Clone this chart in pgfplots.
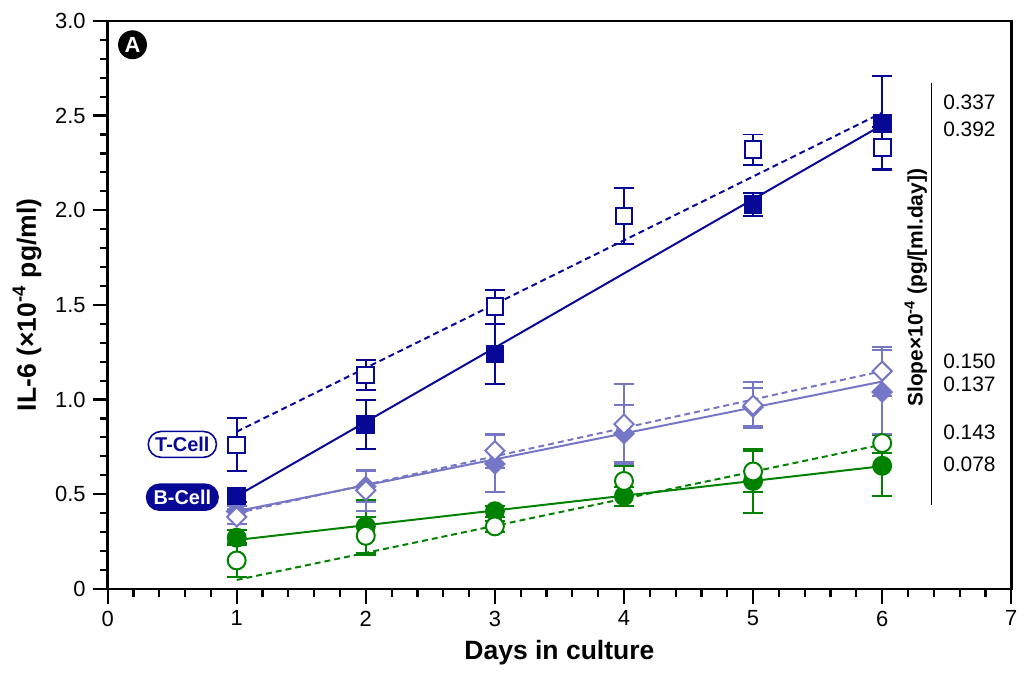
\documentclass[border=0pt]{standalone}
\usepackage{fontspec}
\setmainfont{Liberation Sans}
\usepackage{pgfplots}
\pgfplotsset{compat=1.18}
\definecolor{dblue}{RGB}{8,8,150}
\definecolor{lpurp}{RGB}{118,118,198}
\definecolor{dgreen}{RGB}{0,130,0}
\begin{document}
\begin{tikzpicture}
\begin{axis}[name=ax, scale only axis, width=453.5pt, height=285pt,
  xmin=0, xmax=7, ymin=0, ymax=3,
  xtick={0,1,2,3,4,5,6,7}, ytick={0,0.5,1,1.5,2,2.5,3},
  yticklabels={0,0.5,1.0,1.5,2.0,2.5,3.0},
  minor x tick num=4, minor y tick num=4,
  tick pos=left, tick align=outside,
  major tick length=7.5pt, minor tick length=4pt,
  axis line style={line width=1.3pt},
  every tick/.style={black, line width=1.1pt},
  /pgf/number format/assume math mode=true,
  tick label style={font=\fontsize{11}{13}\selectfont},
  xlabel={Days in culture},
  ylabel={IL-6 (×10\textsuperscript{-4} pg/ml)},
  label style={font=\fontsize{13.3}{15}\selectfont\bfseries},
  clip=false,
]
% regression lines
\addplot[dblue, line width=1pt, dash pattern=on 3pt off 2pt] coordinates {(1,0.83) (6,2.515)};
\addplot[dblue, line width=1pt] coordinates {(1,0.49) (6,2.45)};
\addplot[lpurp, line width=1pt, dash pattern=on 3pt off 2pt] coordinates {(1,0.40) (6,1.15)};
\addplot[lpurp, line width=1pt] coordinates {(1,0.41) (6,1.095)};
\addplot[dgreen, line width=1pt, dash pattern=on 3pt off 2pt] coordinates {(1,0.047) (6,0.762)};
\addplot[dgreen, line width=1pt] coordinates {(1,0.258) (6,0.648)};

% green filled circles (B-cell)
\addplot[only marks, mark=*, mark size=4.5pt, mark options={fill=dgreen, draw=dgreen, line width=1pt},
  error bars/.cd, y dir=both, y explicit,
  error bar style={dgreen, line width=1pt},
  error mark options={rotate=90, mark size=5pt, dgreen, line width=1pt}]
  table[x index=0, y index=1, y error index=2] {
x y e
1 0.27 0.04
2 0.33 0.14
3 0.41 0.03
4 0.49 0.05
5 0.57 0.17
6 0.65 0.16
};
% green open circles (T-cell)
\addplot[only marks, mark=*, mark size=4.5pt, mark options={fill=white, draw=dgreen, line width=1pt},
  error bars/.cd, y dir=both, y explicit,
  error bar style={dgreen, line width=1pt},
  error mark options={rotate=90, mark size=5pt, dgreen, line width=1pt}]
  table[x index=0, y index=1, y error index=2] {
x y e
1 0.15 0.09
2 0.28 0.10
3 0.33 0.03
4 0.57 0.08
5 0.62 0.11
6 0.77 0.05
};
% purple filled diamonds (B-cell)
\addplot[only marks, mark=square*, mark size=3.4pt, mark options={rotate=45, fill=lpurp, draw=lpurp, line width=1pt},
  error bars/.cd, y dir=both, y explicit,
  error bar style={lpurp, line width=1pt},
  error mark options={rotate=90, mark size=5pt, lpurp, line width=1pt}]
  table[x index=0, y index=1, y error index=2] {
x y e
1 0.41 0.03
2 0.54 0.08
3 0.66 0.15
4 0.82 0.15
5 0.96 0.10
6 1.04 0.22
};
% purple open diamonds (T-cell)
\addplot[only marks, mark=square*, mark size=3.4pt, mark options={rotate=45, fill=white, draw=lpurp, line width=1pt},
  error bars/.cd, y dir=both, y explicit,
  error bar style={lpurp, line width=1pt},
  error mark options={rotate=90, mark size=5pt, lpurp, line width=1pt}]
  table[x index=0, y index=1, y error index=2] {
x y e
1 0.38 0.04
2 0.52 0.11
3 0.73 0.09
4 0.87 0.21
5 0.97 0.12
6 1.15 0.13
};
% blue filled squares (B-cell)
\addplot[only marks, mark=square*, mark size=4.2pt, mark options={fill=dblue, draw=dblue, line width=1pt},
  error bars/.cd, y dir=both, y explicit,
  error bar style={dblue, line width=1pt},
  error mark options={rotate=90, mark size=5pt, dblue, line width=1pt}]
  table[x index=0, y index=1, y error index=2] {
x y e
1 0.49 0.03
2 0.87 0.13
3 1.24 0.16
5 2.03 0.06
6 2.46 0.25
};
% blue open squares (T-cell)
\addplot[only marks, mark=square*, mark size=4.2pt, mark options={fill=white, draw=dblue, line width=1pt},
  error bars/.cd, y dir=both, y explicit,
  error bar style={dblue, line width=1pt},
  error mark options={rotate=90, mark size=5pt, dblue, line width=1pt}]
  table[x index=0, y index=1, y error index=2] {
x y e
1 0.76 0.14
2 1.13 0.08
3 1.49 0.09
4 1.97 0.15
5 2.32 0.08
6 2.33 0.11
};

% annotations
\draw[line width=0.8pt] (axis cs:6.383,2.674) -- (axis cs:6.383,0.442);
\node[rotate=90, font=\fontsize{10.5}{12}\selectfont\bfseries] at (axis cs:6.26,1.59) {Slope×10\textsuperscript{-4} (pg/[ml.day])};
\node[anchor=west, font=\fontsize{10.5}{12}\selectfont, inner sep=0pt] at (axis cs:6.47,2.568) {0.337};
\node[anchor=west, font=\fontsize{10.5}{12}\selectfont, inner sep=0pt] at (axis cs:6.47,2.426) {0.392};
\node[anchor=west, font=\fontsize{10.5}{12}\selectfont, inner sep=0pt] at (axis cs:6.47,1.200) {0.150};
\node[anchor=west, font=\fontsize{10.5}{12}\selectfont, inner sep=0pt] at (axis cs:6.47,1.079) {0.137};
\node[anchor=west, font=\fontsize{10.5}{12}\selectfont, inner sep=0pt] at (axis cs:6.47,0.826) {0.143};
\node[anchor=west, font=\fontsize{10.5}{12}\selectfont, inner sep=0pt] at (axis cs:6.47,0.658) {0.078};
\node[circle, fill=black, text=white, inner sep=0pt, minimum size=14.5pt, font=\fontsize{11}{12}\selectfont\bfseries] at (axis cs:0.193,2.874) {A};
\node[draw=dblue, line width=0.8pt, rounded corners=6.5pt, fill=white, text=dblue, minimum height=13pt, inner xsep=3.5pt, inner ysep=1pt, font=\fontsize{10}{12}\selectfont\bfseries] at (axis cs:0.579,0.763) {T-Cell};
\node[draw=dblue, line width=0.8pt, rounded corners=6.5pt, fill=dblue, text=white, minimum height=13pt, inner xsep=3.5pt, inner ysep=1pt, font=\fontsize{10}{12}\selectfont\bfseries] at (axis cs:0.579,0.484) {B-Cell};
\end{axis}
\path ([shift={(-54pt,-44pt)}]ax.south west) rectangle ([shift={(4.5pt,10.5pt)}]ax.north east);
\end{tikzpicture}
\end{document}
